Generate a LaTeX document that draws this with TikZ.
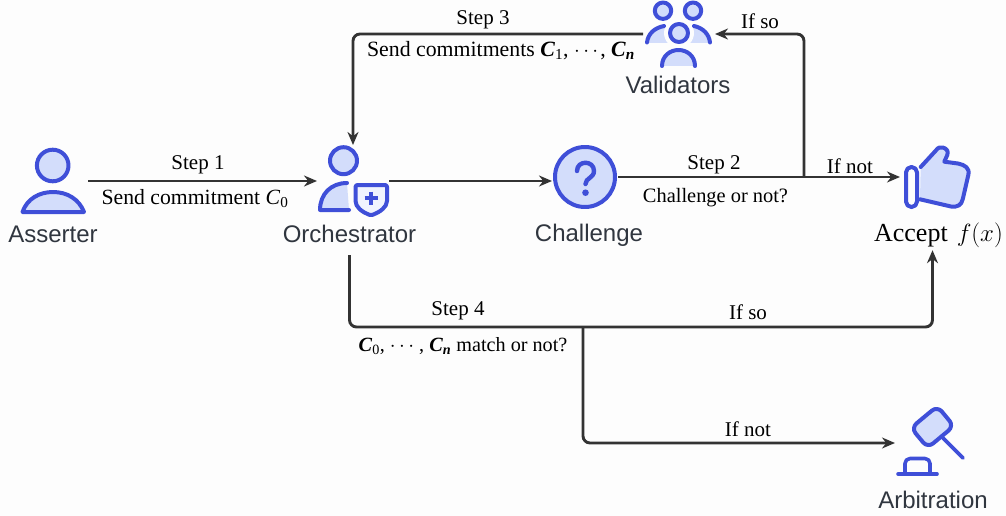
\documentclass[tikz,border=0pt]{standalone}
\usepackage{fontspec}
\setmainfont{Liberation Serif}
\newfontfamily\sansf{Liberation Sans}
\usetikzlibrary{arrows.meta}
\definecolor{iconblue}{HTML}{3F4FD8}
\definecolor{iconfill}{HTML}{D3DDFB}
\definecolor{linedark}{HTML}{333333}
\definecolor{sanstext}{HTML}{30363F}
\definecolor{paper}{HTML}{FDFDFD}
\newcommand{\Csub}[1]{\textbf{\textit{C}}\textsubscript{#1}}
\tikzset{
  iconline/.style={draw=iconblue,line width=4pt,fill=iconfill,line join=round,line cap=round},
  iconstroke/.style={draw=iconblue,line width=4pt,line join=round,line cap=round},
  slot/.style={inner sep=0pt,outer sep=0pt},
  conn/.style={draw=linedark,line width=2.9pt,rounded corners=7pt},
  arrowconn/.style={conn,-{Stealth[length=13pt,width=11pt]}},
  lbl/.style={font=\fontsize{21}{23}\selectfont,text=black,inner sep=0pt},
  sanslbl/.style={font=\sansf\fontsize{24}{26}\selectfont,text=sanstext,inner sep=0pt},
}
\begin{document}
\begin{tikzpicture}[x=1pt,y=-1pt]
\useasboundingbox (0,0) rectangle (1006,516);
\fill[paper] (0,0) rectangle (1006,516);

% anchor slots for the icons
\node[slot,minimum width=70pt,minimum height=70pt] (asserter) at (53,181) {};
\node[slot,minimum width=72pt,minimum height=72pt] (orch) at (353,181) {};
\node[slot,minimum width=66pt,minimum height=66pt] (challenge) at (585,177) {};
\node[slot,minimum width=72pt,minimum height=72pt] (validators) at (679,34) {};
\node[slot,minimum width=66pt,minimum height=66pt] (accept) at (933,177) {};
\node[slot,minimum width=74pt,minimum height=70pt] (arbit) at (932,443) {};

% Asserter
\draw[iconline] (52.7,165.5) circle (15.8);
\draw[iconline] (22.5,212) .. controls (27,199) and (39,192) .. (53,192) .. controls (67,192) and (79,199) .. (84,212) -- cycle;

% Orchestrator
\draw[iconline] (343.5,160.7) circle (13.5);
\draw[iconline] (347,183) .. controls (331,183) and (320,194) .. (320,210) -- (349,210);
\draw[iconstroke,fill=iconfill!35!white,rounded corners=2pt] (355.5,185) -- (387,185) -- (387,199) .. controls (387,207) and (380,212) .. (371,215.5) .. controls (362,212) and (355.5,207) .. (355.5,199) -- cycle;
\draw[iconblue,line width=4pt] (364.5,198) -- (377.5,198) (371,191.5) -- (371,204.5);

% Challenge
\draw[iconline] (585,177) circle (30);
\draw[iconstroke,fill=none,line width=4.4pt] (577,171) .. controls (577,160) and (594,160) .. (594,171) .. controls (594,178) and (585.5,178) .. (585.5,184);
\fill[iconblue] (585.5,192.7) circle (3.3);

% Validators
\fill[iconfill] (647,43) .. controls (648,34) and (654,28) .. (665,26) -- (694,26) .. controls (703,28) and (709,34) .. (710,43) -- cycle;
\fill[paper] (679,33) circle (15);
\fill[paper] (662,44) rectangle (696,52);
\draw[iconstroke,fill=none] (647,42.5) .. controls (648,34) and (654,28) .. (664,26);
\draw[iconstroke,fill=none] (694,26) .. controls (703,28) and (709,34) .. (710,42.5);
\draw[iconline] (663,10.7) circle (8.2);
\draw[iconline] (693,10.7) circle (8.2);
\draw[iconline] (679,33) circle (9);
\fill[iconfill] (662,66) .. controls (662,56) and (670,50) .. (678.5,50) .. controls (687,50) and (695,56) .. (695,66) -- cycle;
\draw[iconstroke,fill=none] (662,66) .. controls (662,56) and (670,50) .. (678.5,50) .. controls (687,50) and (695,56) .. (695,66);

% Thumb
\draw[iconline] (920.7,167) -- (935.7,150.7) .. controls (938,147) and (941,147) .. (943,147.5) .. controls (947,149) and (948.5,151) .. (947.3,155) -- (944.3,161.7) -- (958,163.5) .. controls (965,165) and (970,168) .. (968.3,175) -- (962.8,199) .. controls (961.5,205) and (957.5,207.5) .. (951,206.5) -- (920,199.3);
\draw[iconstroke,fill=paper,rounded corners=5.4pt] (906,167) rectangle (917,207);

% Gavel
\draw[iconline,rounded corners=7pt] (945.6,416.1) -- (937.3,406.1) -- (911.1,427.9) -- (927.7,447.9) -- (953.9,426.1) -- cycle;
\draw[iconstroke,line width=3.6pt] (943,438) -- (963,458);
\draw[iconstroke,line width=3.6pt,fill=none,rounded corners=5pt] (905,474) -- (905,458.5) -- (930,458.5) -- (930,474);
\draw[iconstroke,line width=3.6pt] (898,474) -- (937,474);

% Sans labels
\node[sanslbl,minimum height=42pt] (lasserter) at (53,234) {Asserter};
\node[sanslbl,minimum height=42pt] (lorch) at (349.5,234) {Orchestrator};
\node[sanslbl] (lchallenge) at (589,235.5) {Challenge};
\node[sanslbl] (lvalidators) at (678,85) {Validators};
\node[sanslbl] (larbit) at (933,500) {Arbitration};
\node[font=\fontsize{26}{28}\selectfont,inner sep=0pt,minimum height=30pt] (laccept) at (938.5,235) {Accept\kern9pt$f(x)$};

% Junction points
\coordinate (j2) at (804,177);
\coordinate (j4) at (583,327);

% Connectors
\draw[arrowconn] (asserter.east) -- (orch.west);
\draw[arrowconn] (orch.east) -- ([yshift=-4pt]challenge.west);
\draw[arrowconn] (challenge.east) -- (accept.west);
\draw[arrowconn] (j2) |- (validators.east);
\draw[arrowconn] (validators.west) -| (orch.north);
\draw[arrowconn] (lorch.south) |- (j4) -| ([xshift=-6pt]laccept.south);
\draw[arrowconn] (j4) |- (arbit.west);

% Connector labels
\node[lbl] (s1) at (198,164.5) {Step 1};
\node[lbl,font=\fontsize{21.7}{23}\selectfont] (s1b) at (195,198.5) {Send commitment \textit{C}\textsubscript{0}};
\node[lbl] (s2) at (714,164.5) {Step 2};
\node[lbl,font=\fontsize{20.4}{22}\selectfont] (s2b) at (715.5,197.5) {Challenge or not?};
\node[lbl] (ifnot1) at (850,166) {If not};
\node[lbl] (ifso1) at (760,21) {If so};
\node[lbl] (s3) at (483,19.5) {Step 3};
\node[lbl,font=\fontsize{21.8}{23}\selectfont] (s3b) at (501,50.5) {Send commitments \Csub{1}, $\cdots$\kern2pt, \Csub{\textbf{\textit{n}}}};
\node[lbl] (s4) at (458,310.5) {Step 4};
\node[lbl,font=\fontsize{20.2}{22}\selectfont] (s4b) at (463,346.5) {\Csub{0}, $\cdots$ , \Csub{\textbf{\textit{n}}} match or not?};
\node[lbl] (ifso2) at (748,312) {If so};
\node[lbl] (ifnot2) at (748,429) {If not};
\end{tikzpicture}
\end{document}
